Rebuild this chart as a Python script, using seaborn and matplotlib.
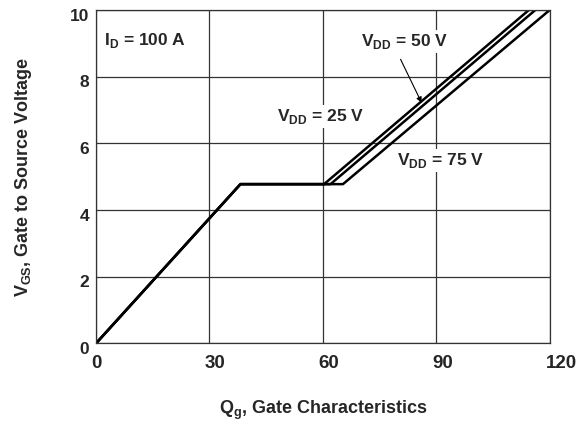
import pandas as pd
import matplotlib.pyplot as plt
import matplotlib.transforms as mtransforms
import seaborn as sns

# Gate charge curves (Qg in nC, Vgs in V)
qg_25 = [0, 38.2, 60.3, 114.4]
vgs_25 = [0, 4.78, 4.78, 10.0]
qg_50 = [0, 38.2, 62.0, 116.1]
vgs_50 = [0, 4.78, 4.78, 10.0]
qg_75 = [0, 38.2, 65.3, 119.9]
vgs_75 = [0, 4.78, 4.78, 10.0]

x_ticks = [0, 30, 60, 90, 120]
y_ticks = [0, 2, 4, 6, 8, 10]

df = pd.concat([
    pd.DataFrame({'Qg': qg_25, 'Vgs': vgs_25, 'VDD': '25 V'}),
    pd.DataFrame({'Qg': qg_50, 'Vgs': vgs_50, 'VDD': '50 V'}),
    pd.DataFrame({'Qg': qg_75, 'Vgs': vgs_75, 'VDD': '75 V'}),
])

sns.set_theme(style='white')
plt.rcParams['font.family'] = ['Liberation Sans', 'DejaVu Sans']
plt.rcParams['mathtext.fontset'] = 'custom'
plt.rcParams['mathtext.rm'] = 'Liberation Sans:bold'
plt.rcParams['mathtext.bf'] = 'Liberation Sans:bold'

fig, ax = plt.subplots(figsize=(5.85, 4.24), dpi=100)
fig.subplots_adjust(left=0.164, right=0.94, top=0.976, bottom=0.19)

sns.lineplot(data=df, x='Qg', y='Vgs', units='VDD', estimator=None,
             color='black', linewidth=1.8, sort=False, legend=False, ax=ax)

ax.set_xlim(0, 120)
ax.set_ylim(0, 10)
ax.set_xticks(x_ticks)
ax.set_yticks(y_ticks)
ax.grid(True, color='#333333', linewidth=0.9)
for s in ax.spines.values():
    s.set_color('#333333')
    s.set_linewidth(0.9)
ax.tick_params(length=0)
ax.tick_params(axis='x', pad=8.5, labelsize=13.5)
ax.tick_params(axis='y', pad=5, labelsize=12.5)

# tick labels in the original sit a little off their grid lines
x_shift = mtransforms.ScaledTranslation(-0.045, 0, fig.dpi_scale_trans)
y_shift = mtransforms.ScaledTranslation(0, -0.045, fig.dpi_scale_trans)
for lbl in ax.get_xticklabels():
    lbl.set_fontweight('bold')
    lbl.set_horizontalalignment('left')
    lbl.set_transform(lbl.get_transform() + x_shift)
for lbl in ax.get_yticklabels():
    lbl.set_fontweight('bold')
    lbl.set_transform(lbl.get_transform() + y_shift)

ax.set_xlabel(r'Q$_{\mathrm{g}}$, Gate Characteristics', fontsize=13,
              fontweight='bold', labelpad=19)
ax.set_ylabel(r'V$_{\mathrm{GS}}$, Gate to Source Voltage', fontsize=13,
              fontweight='bold', labelpad=25.5)

box = dict(facecolor='white', edgecolor='none', pad=1.5)
fs = 12.5
ax.text(2.0, 9.08, r'I$_{\mathrm{D}}$ = 100 A', fontsize=fs, fontweight='bold',
        va='center', ha='left', bbox=box)
ax.text(59.4, 6.8, r'V$_{\mathrm{DD}}$ = 25 V', fontsize=fs, fontweight='bold',
        va='center', ha='center', bbox=box)
ax.text(81.7, 9.05, r'V$_{\mathrm{DD}}$ = 50 V', fontsize=fs, fontweight='bold',
        va='center', ha='center', bbox=box)
ax.text(91.0, 5.5, r'V$_{\mathrm{DD}}$ = 75 V', fontsize=fs, fontweight='bold',
        va='center', ha='center', bbox=box)
ax.annotate('', xy=(86.4, 7.15), xytext=(80.2, 8.6),
            arrowprops=dict(arrowstyle='-|>', color='black', lw=0.8,
                            mutation_scale=8))

fig.savefig('out.png', dpi=100)
